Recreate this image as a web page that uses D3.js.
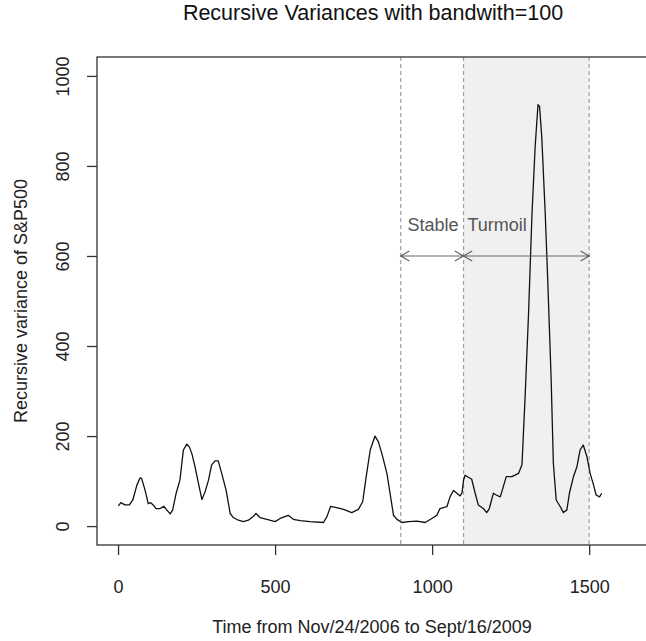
<!DOCTYPE html>
<html>
<head>
<meta charset="utf-8">
<script src="https://cdn.jsdelivr.net/npm/d3@7"></script>
<style>
  body { margin: 0; background: #fff; }
  text { font-family: "Liberation Sans", Arial, sans-serif; }
</style>
</head>
<body>
<script>
// Recursive variance line chart

// Data (time index, variance)
var timeIdx = [1, 9, 22, 36, 47, 60, 70, 75, 86, 96, 104, 112, 121, 134, 146, 155, 166, 174, 185, 197,
  208, 219, 227, 235, 245, 256, 267, 277, 288, 298, 309, 319, 330, 344, 357, 367, 383, 399, 415, 431,
  439, 452, 474, 500, 516, 542, 558, 580, 611, 654, 665, 677, 696, 718, 744, 765, 779, 790, 803, 818,
  829, 840, 856, 866, 877, 888, 904, 925, 951, 978, 999, 1015, 1025, 1047, 1057, 1068, 1079, 1089, 1095, 1100,
  1105, 1126, 1137, 1147, 1163, 1174, 1182, 1195, 1204, 1217, 1236, 1254, 1275, 1286, 1296, 1307, 1318, 1328, 1337, 1342,
  1349, 1360, 1368, 1379, 1386, 1395, 1408, 1418, 1429, 1437, 1450, 1461, 1471, 1481, 1493, 1503, 1514, 1522, 1533, 1540];
var variance = [45, 52, 47, 47, 58, 91, 107, 106, 80, 50, 52, 47, 39, 39, 44, 36, 27, 36, 73, 102,
  169, 182, 176, 161, 132, 95, 59, 76, 102, 136, 145, 145, 117, 80, 28, 19, 13, 10, 13, 22,
  28, 19, 15, 10, 17, 24, 15, 12, 10, 8, 21, 44, 41, 37, 30, 37, 54, 110, 169, 200,
  187, 161, 117, 73, 24, 15, 8, 10, 11, 8, 17, 24, 39, 43, 65, 79, 73, 67, 73, 102,
  113, 104, 73, 47, 39, 30, 39, 73, 69, 65, 110, 110, 117, 136, 287, 473, 695, 843, 936, 932,
  865, 695, 547, 324, 139, 58, 43, 30, 36, 73, 110, 132, 169, 180, 154, 117, 91, 69, 65, 73];

var xTicks = [0, 500, 1000, 1500];
var yTicks = [0, 200, 400, 600, 800, 1000];
var periodBreaks = [900, 1100, 1500];
var periodLabels = ["Stable", "Turmoil"];
var labelPos = [1003, 1207];
var arrowLevel = 600;
var labelLevel = 669;

// 1. Size and plot box

var W = 646, H = 641;
var box = {left: 97, right: 652, top: 57, bottom: 545};

var svg = d3.select("body").append("svg")
    .attr("width", W)
    .attr("height", H);

// 2. Scales

var x = d3.scaleLinear().domain([-67, 1700]).range([box.left, box.right]);
var y = d3.scaleLinear().domain([-42, 1042]).range([box.bottom, box.top]);

// 3. Shaded turmoil period

svg.append("rect")
    .attr("x", x(periodBreaks[1]))
    .attr("y", box.top)
    .attr("width", x(periodBreaks[2]) - x(periodBreaks[1]))
    .attr("height", box.bottom - box.top)
    .attr("fill", "#f0f0f0");

// dashed vertical lines
svg.selectAll(".brk")
    .data(periodBreaks)
    .enter().append("line")
    .attr("class", "brk")
    .attr("x1", function(d) { return x(d); })
    .attr("x2", function(d) { return x(d); })
    .attr("y1", box.top)
    .attr("y2", box.bottom)
    .attr("stroke", "#a0a0a0")
    .attr("stroke-width", 1.2)
    .attr("stroke-dasharray", "4,3");

// 4. The series line

var pts = timeIdx.map(function(t, i) { return [t, variance[i]]; });

svg.append("path")
    .datum(pts)
    .attr("fill", "none")
    .attr("stroke", "#111")
    .attr("stroke-width", 1.3)
    .attr("stroke-linejoin", "round")
    .attr("d", d3.line()
        .x(function(d) { return x(d[0]); })
        .y(function(d) { return y(d[1]); }));

// 5. Double headed arrows and labels

function arrowHead(xp, yp, dir) {
  var len = 10, ang = Math.PI / 6;
  return "M" + (xp + dir * len * Math.cos(ang)) + "," + (yp - len * Math.sin(ang)) +
    "L" + xp + "," + yp +
    "L" + (xp + dir * len * Math.cos(ang)) + "," + (yp + len * Math.sin(ang));
}

var segs = [[periodBreaks[0], periodBreaks[1]], [periodBreaks[1], periodBreaks[2]]];
segs.forEach(function(s) {
  var x0 = x(s[0]), x1 = x(s[1]), yy = y(arrowLevel);
  svg.append("path")
      .attr("d", "M" + x0 + "," + yy + "L" + x1 + "," + yy + arrowHead(x0, yy, 1) + arrowHead(x1, yy, -1))
      .attr("fill", "none")
      .attr("stroke", "#666")
      .attr("stroke-width", 1.2);
});

svg.selectAll(".plab")
    .data(periodLabels)
    .enter().append("text")
    .attr("class", "plab")
    .attr("x", function(d, i) { return x(labelPos[i]); })
    .attr("y", y(labelLevel))
    .attr("dy", "0.35em")
    .attr("text-anchor", "middle")
    .attr("font-size", 18)
    .attr("fill", "#555")
    .text(function(d) { return d; });

// 6. Box and axes

svg.append("rect")
    .attr("x", box.left)
    .attr("y", box.top)
    .attr("width", box.right - box.left)
    .attr("height", box.bottom - box.top)
    .attr("fill", "none")
    .attr("stroke", "#333")
    .attr("stroke-width", 1.3);

var xAxis = svg.append("g")
    .attr("transform", "translate(0," + box.bottom + ")")
    .call(d3.axisBottom(x).tickValues(xTicks).tickFormat(d3.format("d"))
        .tickSize(10).tickPadding(25).tickSizeOuter(0));
var yAxis = svg.append("g")
    .attr("transform", "translate(" + box.left + ",0)")
    .call(d3.axisLeft(y).tickValues(yTicks).tickFormat(d3.format("d"))
        .tickSize(10).tickSizeOuter(0));

[xAxis, yAxis].forEach(function(g) {
  g.select(".domain").remove();
  g.selectAll(".tick line").attr("stroke", "#333").attr("stroke-width", 1.3);
  g.selectAll(".tick text").attr("font-size", 18).attr("fill", "#222")
      .style("font-family", "'Liberation Sans', Arial, sans-serif");
});

// y tick labels are vertical, as in R
yAxis.selectAll(".tick text")
    .attr("x", null).attr("dy", null)
    .attr("text-anchor", "middle")
    .attr("transform", "translate(-28,0) rotate(-90)");

// 7. Titles

svg.append("text")
    .attr("x", 373)
    .attr("y", 20)
    .attr("text-anchor", "middle")
    .attr("font-size", 21.5)
    .attr("fill", "#111")
    .text("Recursive Variances with bandwith=100");

svg.append("text")
    .attr("x", 372)
    .attr("y", 633)
    .attr("text-anchor", "middle")
    .attr("font-size", 18)
    .attr("fill", "#222")
    .text("Time from Nov/24/2006 to Sept/16/2009");

svg.append("text")
    .attr("transform", "translate(27," + ((box.top + box.bottom) / 2) + ") rotate(-90)")
    .attr("text-anchor", "middle")
    .attr("font-size", 18)
    .attr("fill", "#222")
    .text("Recursive variance of S&P500");
</script>
</body>
</html>
